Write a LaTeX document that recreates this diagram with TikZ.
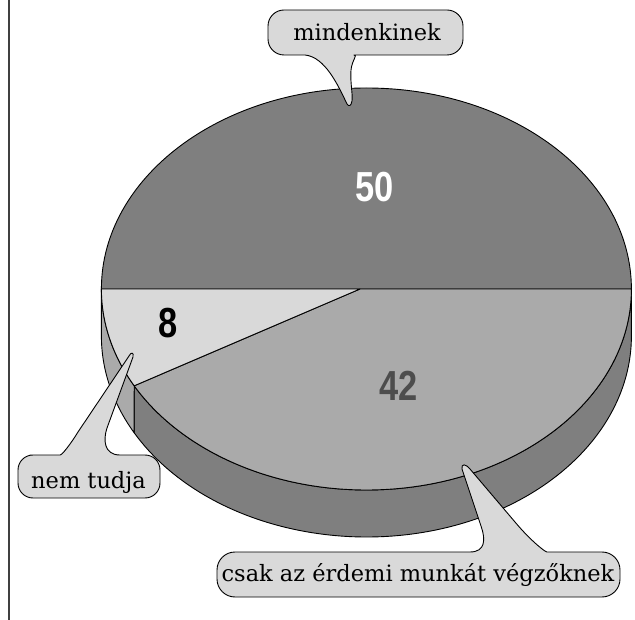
\documentclass[tikz,border=0pt]{standalone}
\usepackage{fontspec}
\setmainfont{DejaVu Serif}
\newfontfamily\numfont{Liberation Sans}
\definecolor{darkpie}{HTML}{7F7F7F}
\definecolor{midpie}{HTML}{AAAAAA}
\definecolor{lightpie}{HTML}{D9D9D9}
\definecolor{bubblefill}{HTML}{D9D9D9}
\definecolor{numgray}{HTML}{4D4D4D}
\definecolor{rulegray}{HTML}{404040}
\tikzset{
  outline/.style={draw=black, line width=0.9pt, line join=round},
  bubble/.style={outline, fill=bubblefill},
  lbl/.style={font=\fontsize{22.5}{26}\selectfont, anchor=base, inner sep=0pt},
  num/.style={font=\numfont\bfseries\fontsize{42}{42}\selectfont, inner sep=0pt},
  ell/.style={x radius=265, y radius=201}
}
\begin{document}
\begin{tikzpicture}[x=1pt,y=-1pt]
\useasboundingbox (0,0) rectangle (635,620);
% left rule
\draw[rulegray, line width=2pt] (8.7,0) -- (8.7,620);
% sides
\path[outline, fill=darkpie] (134.2,385.8) -- (134.2,432.8)
  arc[start angle=151.2, end angle=0, ell] -- (631.4,289)
  arc[start angle=0, end angle=151.2, ell] -- cycle;
\path[outline, fill=midpie] (101.4,289) -- (101.4,336)
  arc[start angle=180, end angle=151.2, ell] -- (134.2,385.8)
  arc[start angle=151.2, end angle=180, ell] -- cycle;
% tops
\path[outline, fill=darkpie] (101.4,289) arc[start angle=180, end angle=360, ell] -- cycle;
\path[outline, fill=midpie] (360,289) -- (631.4,289) arc[start angle=0, end angle=151.2, ell] -- cycle;
\path[outline, fill=lightpie] (360,289) -- (134.2,385.8) arc[start angle=151.2, end angle=180, ell] -- cycle;
% numbers
\node[num, text=white] (n50) at (375,187) {\scalebox{0.82}[1]{50}};
\node[num, text=numgray] (n42) at (398.5,386) {\scalebox{0.82}[1]{42}};
\node[num, text=black] (n8) at (168,323) {\scalebox{0.82}[1]{8}};
% top bubble
\path[bubble] (305,55) [rounded corners=16pt] -- (268,55) -- (268,10) -- (463,10) -- (463,55) -- (370,55)
  [sharp corners] .. controls (358,55) and (352,60) .. (351,70)
  .. controls (350,82) and (353,95) .. (352,101)
  .. controls (351,106) and (349,107) .. (347,104)
  .. controls (338,85) and (325,57) .. (305,55) -- cycle;
\node[lbl] (lmind) at (367,40.7) {mindenkinek};
% left bubble
\path[bubble] (120,455) [rounded corners=15pt] -- (160,455) -- (160,498) -- (18,498) -- (18,455) -- (45,455)
  [sharp corners] .. controls (62,455) and (70,445) .. (78,432)
  -- (129,356) .. controls (131,352) and (134,352) .. (133,357)
  -- (107,428) .. controls (103,440) and (104,455) .. (120,455) -- cycle;
\node[lbl] (lnem) at (88.5,488) {nem tudja};
% bottom bubble
\path[bubble] (470,552) [rounded corners=18pt] -- (217,552) -- (217,597) -- (620,597) -- (620,552) -- (565,552)
  [sharp corners] .. controls (545,552) and (530,540) .. (515,522)
  -- (470,469) .. controls (466,464) and (461,463) .. (462,469)
  -- (481,526) .. controls (486,540) and (485,552) .. (470,552) -- cycle;
\node[lbl] (lcsak) at (418,581.7) {csak az érdemi munkát végzőknek};
\end{tikzpicture}
\end{document}
